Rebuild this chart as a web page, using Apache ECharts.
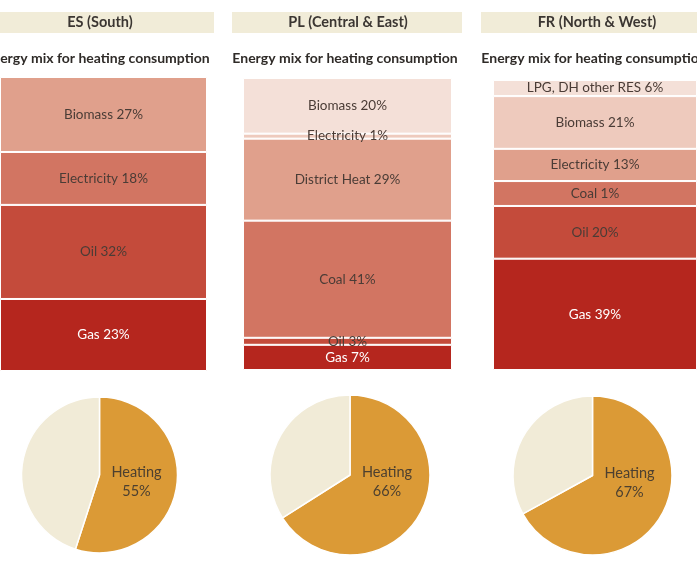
<!DOCTYPE html>
<html>
<head>
<meta charset="utf-8">
<script src="https://cdn.jsdelivr.net/npm/echarts@6/dist/echarts.min.js"></script>
<style>
  html, body { margin: 0; padding: 0; background: #fff; }
  #main { width: 697px; height: 566px; }
</style>
</head>
<body>
<div id="main"></div>
<script>
// region headers
const countries = ['ES (South)', 'PL (Central & East)', 'FR (North & West)'];
const mixTitle = 'Energy mix for heating consumption';

// printed shares (labels) and segment heights
const esSources = ['Biomass', 'Electricity', 'Oil', 'Gas'];
const esPct = [27, 18, 32, 23];
const esBar = [25.5, 18, 32, 24.5];

const plSources = ['Biomass', 'Electricity', 'District Heat', 'Coal', 'Oil', 'Gas'];
const plPct = [20, 1, 29, 41, 3, 7];
const plBar = [19, 1.7, 28, 40, 2.4, 8.6];

const frSources = ['LPG, DH other RES', 'Biomass', 'Electricity', 'Coal', 'Oil', 'Gas'];
const frPct = [6, 21, 13, 1, 20, 39];
const frBar = [5.5, 18, 11, 8.5, 18, 38];

// heating share of total consumption
const heatingShare = [55, 66, 67];

// colour ramp, lightest to darkest
const shades = ['#f4e0d8', '#eecabd', '#e0a08c', '#d27562', '#c44b3b', '#b5261e'];
const panels = [
    { sources: esSources, pct: esPct, bar: esBar, shade: [2, 3, 4, 5], left: -5, width: 212, top: 77, height: 294, mid: 100, pie: [99.5, 475, 78] },
    { sources: plSources, pct: plPct, bar: plBar, shade: [0, 1, 2, 3, 4, 5], left: 243, width: 209, top: 78, height: 292, mid: 348, pie: [350, 475, 80] },
    { sources: frSources, pct: frPct, bar: frBar, shade: [0, 1, 2, 3, 4, 5], left: 493, width: 209, top: 80, height: 290, mid: 597, pie: [592.5, 475.5, 79.5] }
];

const textDark = '#4a3c36';
const font = 'Lato';

const grid = [], xAxis = [], yAxis = [], series = [], title = [], graphic = [];

panels.forEach(function (p, i) {
    // header band
    graphic.push({
        type: 'rect', silent: true, z: 0,
        shape: { x: p.mid - 116, y: 12, width: 230, height: 21 },
        style: { fill: '#f1ecd8' }
    });
    title.push({
        text: countries[i], left: p.mid, top: 15, textAlign: 'center', padding: 0,
        textStyle: { fontFamily: font, fontSize: 14.5, fontWeight: 'bold', color: '#3b3632' }
    });
    title.push({
        text: mixTitle, left: p.mid - 3, top: 51, textAlign: 'center', padding: 0,
        textStyle: { fontFamily: font, fontSize: 14, fontWeight: 'bold', color: '#2f2b28' }
    });

    grid.push({ left: p.left, top: p.top, width: p.width, height: p.height });
    xAxis.push({ type: 'category', gridIndex: i, data: [''], show: false });
    yAxis.push({
        type: 'value', gridIndex: i, show: false, inverse: true, min: 0,
        max: p.bar.reduce(function (a, b) { return a + b; }, 0),
        splitLine: { show: false }
    });

    p.sources.forEach(function (name, j) {
        const dark = p.shade[j] === 5;
        series.push({
            type: 'bar', name: name, xAxisIndex: i, yAxisIndex: i,
            stack: 'mix' + i, barWidth: '100%', silent: true,
            data: [p.bar[j]],
            itemStyle: { color: shades[p.shade[j]], borderColor: '#fff', borderWidth: 1 },
            label: {
                show: true, position: 'inside',
                formatter: name + ' ' + p.pct[j] + '%',
                fontFamily: font, fontSize: 13.5,
                color: dark ? '#fff' : textDark
            }
        });
    });

    const cx = p.pie[0], cy = p.pie[1];
    series.push({
        type: 'pie', center: [cx, cy], radius: p.pie[2],
        startAngle: 90, clockwise: true, silent: true, animation: false,
        itemStyle: { borderColor: '#fff', borderWidth: 1.5 },
        label: {
            show: true, position: 'inside',
            formatter: function (d) { return d.name + '\n' + d.value + '%'; },
            fontFamily: font, fontSize: 14.5, lineHeight: 19, color: '#4d4030'
        },
        labelLine: { show: false },
        labelLayout: function () { return { x: cx + 37, y: cy + 7 }; },
        data: [
            { name: 'Heating', value: heatingShare[i], itemStyle: { color: '#db9a36' } },
            { name: 'Other', value: 100 - heatingShare[i], itemStyle: { color: '#f1ebd7' }, label: { show: false } }
        ]
    });
});

const chart = echarts.init(document.getElementById('main'));
chart.setOption({
    backgroundColor: '#fff',
    animation: false,
    title: title,
    graphic: graphic,
    grid: grid,
    xAxis: xAxis,
    yAxis: yAxis,
    series: series
});
</script>
</body>
</html>
